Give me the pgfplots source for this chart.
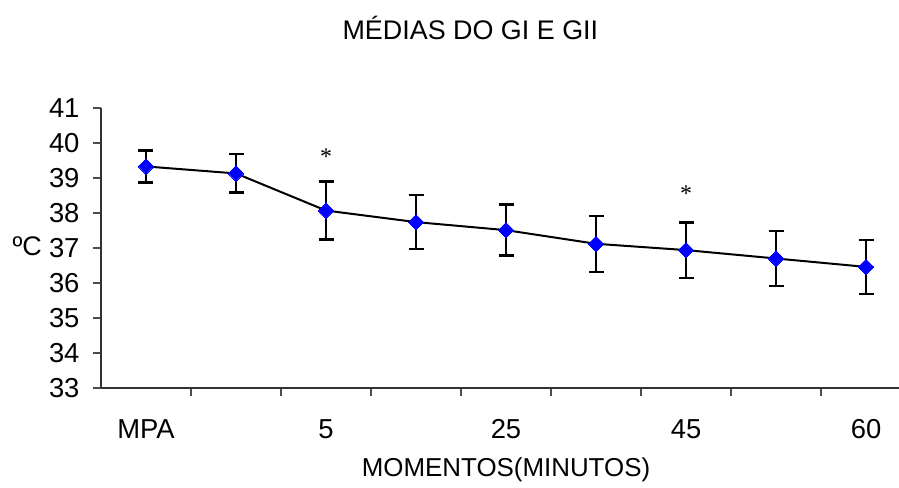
\documentclass[border=0pt]{standalone}
\usepackage{pgfplots}
\pgfplotsset{compat=1.18}
\usepackage{fontspec}
\setmainfont{Liberation Sans}
\newfontfamily\serifstar{Liberation Serif}

% mean temperature and standard deviation at each moment
\pgfplotstableread{
x  y      err
0  39.33  0.46
1  39.13  0.55
2  38.07  0.83
3  37.74  0.77
4  37.51  0.73
5  37.12  0.80
6  36.94  0.79
7  36.70  0.78
8  36.46  0.77
}\medias

\begin{document}
\begin{tikzpicture}[x=1bp,y=1bp]
\path[use as bounding box] (-101,-100) rectangle (798,388);
\begin{axis}[
  at={(0,0)}, anchor=south west,
  scale only axis,
  width=810bp, height=280bp,
  xmin=-0.5, xmax=8.5,
  ymin=33, ymax=41,
  axis x line=bottom, axis y line=left,
  axis line style={-, line width=1.1bp, black!80},
  clip=false,
  ytick={33,...,41},
  xtick={0.5,1.5,...,7.5},
  xticklabels={},
  extra x ticks={0,2,4,6,8},
  extra x tick labels={MPA,5,25,45,60},
  extra x tick style={major tick length=0pt,
    xticklabel style={yshift=-28bp}},
  tick align=outside,
  major tick length=8bp,
  tick style={line width=1.1bp, black!70},
  yticklabel style={xshift=-10bp},
  tick label style={font=\fontsize{27.5}{32}\selectfont},
  /pgf/number format/assume math mode=true,
  title={MÉDIAS DO GI E GII},
  title style={at={(axis description cs:0.456,1.264)}, anchor=center,
    font=\fontsize{27}{32}\selectfont},
  xlabel={MOMENTOS(MINUTOS)},
  xlabel style={at={(axis description cs:0.5,-0.293)}, anchor=center,
    font=\fontsize{26}{30}\selectfont},
  ylabel={ºC},
  ylabel style={at={(axis description cs:-0.091,0.506)}, anchor=center,
    rotate=-90, font=\fontsize{27}{32}\selectfont},
]
\addplot[black, line width=2bp,
  mark=square*, mark size=5.5bp,
  mark options={blue, fill=blue, rotate=45, line width=0pt},
  error bars/.cd, y dir=both, y explicit,
  error bar style={line width=2.4bp, black},
  error mark options={rotate=90, mark size=7.5bp, line width=2.4bp, black}]
  table[x=x, y=y, y error=err] {\medias};
\node[font=\serifstar\fontsize{24}{28}\selectfont] at (axis cs:2,39.62) {*};
\node[font=\serifstar\fontsize{24}{28}\selectfont] at (axis cs:6,38.56) {*};
\end{axis}
\end{tikzpicture}
\end{document}
